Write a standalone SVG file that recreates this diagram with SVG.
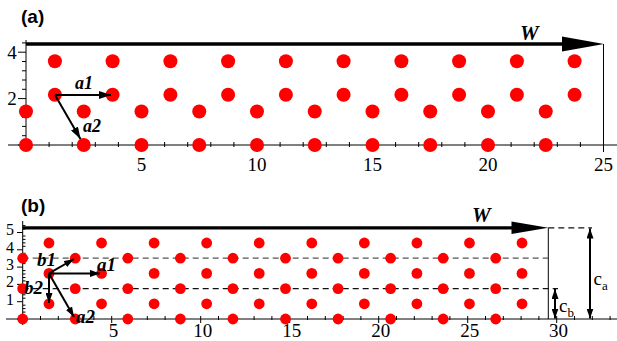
<svg xmlns="http://www.w3.org/2000/svg" width="617" height="341" viewBox="0 0 617 341">
<style>
.dotA{fill:#ff0000}
.ax{stroke:#000;stroke-width:1;fill:none}
.tk{stroke:#000;stroke-width:1}
.num{font-family:"Liberation Serif",serif;fill:#000}
.vl{font-family:"Liberation Serif",serif;font-style:italic;font-weight:bold;fill:#000}
.pl{font-family:"Liberation Sans",Arial,sans-serif;font-weight:bold;font-size:19px;fill:#000}
.vec{stroke:#000;stroke-width:2;fill:none}
.dash1{stroke:#555;stroke-width:1.2;stroke-dasharray:6 4;fill:none}
.dash2{stroke:#111;stroke-width:1.2;stroke-dasharray:6 4;fill:none}
</style>
<defs>
<marker id="ah" markerUnits="userSpaceOnUse" markerWidth="13" markerHeight="8" refX="12" refY="4" orient="auto"><path d="M0,0 L12,4 L0,8 z" fill="#000"/></marker>
<marker id="ahs" markerUnits="userSpaceOnUse" markerWidth="11" markerHeight="7" refX="10" refY="3.5" orient="auto"><path d="M0,0 L10,3.5 L0,7 z" fill="#000"/></marker>
<marker id="ahd" markerUnits="userSpaceOnUse" markerWidth="11" markerHeight="7" refX="10" refY="3.5" orient="auto-start-reverse"><path d="M0,0 L10,3.5 L0,7 z" fill="#000"/></marker>
</defs>

<!-- ============ PANEL A ============ -->
<g id="panelA-axes">
<text class="pl" x="21" y="23">(a)</text>
<line class="ax" x1="26" y1="40" x2="26" y2="151"/>
<line class="ax" x1="8" y1="145" x2="617" y2="145"/>
<line class="ax" x1="603.5" y1="44" x2="603.5" y2="145"/>
<g class="tk">
<line x1="18" y1="145" x2="26" y2="145"/><line x1="18" y1="98.6" x2="26" y2="98.6"/><line x1="18" y1="52.2" x2="26" y2="52.2"/>
<line x1="22" y1="135.7" x2="26" y2="135.7"/><line x1="22" y1="126.4" x2="26" y2="126.4"/><line x1="22" y1="117.2" x2="26" y2="117.2"/><line x1="22" y1="107.9" x2="26" y2="107.9"/>
<line x1="22" y1="89.3" x2="26" y2="89.3"/><line x1="22" y1="80" x2="26" y2="80"/><line x1="22" y1="70.8" x2="26" y2="70.8"/><line x1="22" y1="61.5" x2="26" y2="61.5"/>
<line x1="22" y1="42.9" x2="26" y2="42.9"/>
</g>
<g class="tk">
<line x1="141.5" y1="143" x2="141.5" y2="152"/><line x1="257" y1="143" x2="257" y2="152"/><line x1="372.5" y1="143" x2="372.5" y2="152"/><line x1="488" y1="143" x2="488" y2="152"/><line x1="603.5" y1="143" x2="603.5" y2="152"/>
<line x1="49.1" y1="142" x2="49.1" y2="147"/><line x1="72.2" y1="142" x2="72.2" y2="147"/><line x1="95.3" y1="142" x2="95.3" y2="147"/><line x1="118.4" y1="142" x2="118.4" y2="147"/>
<line x1="164.6" y1="142" x2="164.6" y2="147"/><line x1="187.7" y1="142" x2="187.7" y2="147"/><line x1="210.8" y1="142" x2="210.8" y2="147"/><line x1="233.9" y1="142" x2="233.9" y2="147"/>
<line x1="280.1" y1="142" x2="280.1" y2="147"/><line x1="303.2" y1="142" x2="303.2" y2="147"/><line x1="326.3" y1="142" x2="326.3" y2="147"/><line x1="349.4" y1="142" x2="349.4" y2="147"/>
<line x1="395.6" y1="142" x2="395.6" y2="147"/><line x1="418.7" y1="142" x2="418.7" y2="147"/><line x1="441.8" y1="142" x2="441.8" y2="147"/><line x1="464.9" y1="142" x2="464.9" y2="147"/>
<line x1="511.1" y1="142" x2="511.1" y2="147"/><line x1="534.2" y1="142" x2="534.2" y2="147"/><line x1="557.3" y1="142" x2="557.3" y2="147"/><line x1="580.4" y1="142" x2="580.4" y2="147"/>
</g>
<g class="num" font-size="19" text-anchor="middle">
<text x="12" y="58.5">4</text><text x="12" y="105">2</text>
<text x="141.5" y="171">5</text><text x="257" y="171">10</text><text x="372.5" y="171">15</text><text x="488" y="171">20</text><text x="603.5" y="171">25</text>
</g>
</g>

<g id="panelA-W">
<line x1="26" y1="44" x2="566" y2="44" stroke="#000" stroke-width="3.5"/>
<polygon points="562,36.5 604,44 562,51.5" fill="#000"/>
<text class="vl" font-size="21" x="520" y="40">W</text>
</g>

<g id="panelA-atoms" class="dotA">
<circle cx="26" cy="145" r="7"/><circle cx="83.75" cy="145" r="7"/><circle cx="141.5" cy="145" r="7"/><circle cx="199.25" cy="145" r="7"/><circle cx="257" cy="145" r="7"/><circle cx="314.75" cy="145" r="7"/><circle cx="372.5" cy="145" r="7"/><circle cx="430.25" cy="145" r="7"/><circle cx="488" cy="145" r="7"/><circle cx="545.75" cy="145" r="7"/>
<circle cx="26" cy="111.5" r="7"/><circle cx="83.75" cy="111.5" r="7"/><circle cx="141.5" cy="111.5" r="7"/><circle cx="199.25" cy="111.5" r="7"/><circle cx="257" cy="111.5" r="7"/><circle cx="314.75" cy="111.5" r="7"/><circle cx="372.5" cy="111.5" r="7"/><circle cx="430.25" cy="111.5" r="7"/><circle cx="488" cy="111.5" r="7"/><circle cx="545.75" cy="111.5" r="7"/>
<circle cx="54.9" cy="94.8" r="7"/><circle cx="112.6" cy="94.8" r="7"/><circle cx="170.4" cy="94.8" r="7"/><circle cx="228.1" cy="94.8" r="7"/><circle cx="285.9" cy="94.8" r="7"/><circle cx="343.6" cy="94.8" r="7"/><circle cx="401.4" cy="94.8" r="7"/><circle cx="459.1" cy="94.8" r="7"/><circle cx="516.9" cy="94.8" r="7"/><circle cx="574.6" cy="94.8" r="7"/>
<circle cx="54.9" cy="61.3" r="7"/><circle cx="112.6" cy="61.3" r="7"/><circle cx="170.4" cy="61.3" r="7"/><circle cx="228.1" cy="61.3" r="7"/><circle cx="285.9" cy="61.3" r="7"/><circle cx="343.6" cy="61.3" r="7"/><circle cx="401.4" cy="61.3" r="7"/><circle cx="459.1" cy="61.3" r="7"/><circle cx="516.9" cy="61.3" r="7"/><circle cx="574.6" cy="61.3" r="7"/>
</g>

<g id="panelA-vectors">
<line class="vec" x1="55" y1="95" x2="111" y2="95" marker-end="url(#ah)"/>
<line class="vec" x1="55" y1="95" x2="80.5" y2="139" marker-end="url(#ah)"/>
<text class="vl" font-size="18" x="75" y="89">a1</text>
<text class="vl" font-size="18" x="83" y="131.5">a2</text>
</g>

<!-- ============ PANEL B ============ -->
<g id="panelB-axes">
<text class="pl" x="21" y="212">(b)</text>
<line class="ax" x1="22.7" y1="221" x2="22.7" y2="325"/>
<line class="ax" x1="6" y1="319" x2="617" y2="319"/>
<line class="ax" x1="548.3" y1="227.8" x2="548.3" y2="319"/>
<g class="tk">
<line x1="17" y1="319" x2="22.7" y2="319"/><line x1="17" y1="301.7" x2="22.7" y2="301.7"/><line x1="17" y1="284.4" x2="22.7" y2="284.4"/><line x1="17" y1="267.1" x2="22.7" y2="267.1"/><line x1="17" y1="249.8" x2="22.7" y2="249.8"/><line x1="17" y1="232.5" x2="22.7" y2="232.5"/>
</g>
<path class="tk" d="M22.7,315.5h2.8M22.7,312.1h2.8M22.7,308.6h2.8M22.7,305.2h2.8M22.7,298.2h2.8M22.7,294.8h2.8M22.7,291.3h2.8M22.7,287.9h2.8M22.7,280.9h2.8M22.7,277.5h2.8M22.7,274h2.8M22.7,270.6h2.8M22.7,263.6h2.8M22.7,260.2h2.8M22.7,256.7h2.8M22.7,253.3h2.8M22.7,246.3h2.8M22.7,242.9h2.8M22.7,239.4h2.8M22.7,236h2.8M22.7,229h2.8M22.7,225.6h2.8"/>
<path class="tk" d="M111.7,316v7M200.7,316v7M289.7,316v7M378.7,316v7M467.7,316v7M556.7,316v7
M40.5,316v4M58.3,316v4M76.1,316v4M93.9,316v4M129.5,316v4M147.3,316v4M165.1,316v4M182.9,316v4M218.5,316v4M236.3,316v4M254.1,316v4M271.9,316v4M307.5,316v4M325.3,316v4M343.1,316v4M360.9,316v4M396.5,316v4M414.3,316v4M432.1,316v4M449.9,316v4M485.5,316v4M503.3,316v4M521.1,316v4M538.9,316v4M574.5,316v4M592.3,316v4M610.1,316v4"/>
<g class="num" font-size="16" text-anchor="middle">
<text x="10" y="304.5">1</text><text x="10" y="287.2">2</text><text x="10" y="269.9">3</text><text x="10" y="252.6">4</text><text x="10" y="235.3">5</text>
</g>
<g class="num" font-size="19" text-anchor="middle">
<text x="113.5" y="337">5</text><text x="202.7" y="337">10</text><text x="291.7" y="337">15</text><text x="380.7" y="337">20</text><text x="469.7" y="337">25</text><text x="558.5" y="337">30</text>
</g>
</g>

<g id="panelB-guides">
<line class="dash1" x1="22.7" y1="258.2" x2="548.3" y2="258.2"/>
<line class="dash2" x1="22.7" y1="288.6" x2="558" y2="288.6"/>
<line class="dash2" x1="548.3" y1="227.8" x2="592" y2="227.8"/>
</g>

<g id="panelB-W">
<line x1="22.7" y1="227.8" x2="515" y2="227.8" stroke="#000" stroke-width="3.2"/>
<polygon points="511.5,221.5 548.3,227.8 511.5,234" fill="#000"/>
<text class="vl" font-size="21" x="472" y="222">W</text>
</g>

<g id="panelB-atoms" class="dotA">
<circle cx="22.7" cy="319" r="5.4"/><circle cx="75.26" cy="319" r="5.4"/><circle cx="127.82" cy="319" r="5.4"/><circle cx="180.38" cy="319" r="5.4"/><circle cx="232.94" cy="319" r="5.4"/><circle cx="285.5" cy="319" r="5.4"/><circle cx="338.06" cy="319" r="5.4"/><circle cx="390.62" cy="319" r="5.4"/><circle cx="443.18" cy="319" r="5.4"/><circle cx="495.74" cy="319" r="5.4"/>
<circle cx="48.98" cy="303.8" r="5.4"/><circle cx="101.54" cy="303.8" r="5.4"/><circle cx="154.1" cy="303.8" r="5.4"/><circle cx="206.66" cy="303.8" r="5.4"/><circle cx="259.22" cy="303.8" r="5.4"/><circle cx="311.78" cy="303.8" r="5.4"/><circle cx="364.34" cy="303.8" r="5.4"/><circle cx="416.9" cy="303.8" r="5.4"/><circle cx="469.46" cy="303.8" r="5.4"/><circle cx="522.02" cy="303.8" r="5.4"/>
<circle cx="22.7" cy="288.6" r="5.4"/><circle cx="75.26" cy="288.6" r="5.4"/><circle cx="127.82" cy="288.6" r="5.4"/><circle cx="180.38" cy="288.6" r="5.4"/><circle cx="232.94" cy="288.6" r="5.4"/><circle cx="285.5" cy="288.6" r="5.4"/><circle cx="338.06" cy="288.6" r="5.4"/><circle cx="390.62" cy="288.6" r="5.4"/><circle cx="443.18" cy="288.6" r="5.4"/><circle cx="495.74" cy="288.6" r="5.4"/>
<circle cx="48.98" cy="273.4" r="5.4"/><circle cx="101.54" cy="273.4" r="5.4"/><circle cx="154.1" cy="273.4" r="5.4"/><circle cx="206.66" cy="273.4" r="5.4"/><circle cx="259.22" cy="273.4" r="5.4"/><circle cx="311.78" cy="273.4" r="5.4"/><circle cx="364.34" cy="273.4" r="5.4"/><circle cx="416.9" cy="273.4" r="5.4"/><circle cx="469.46" cy="273.4" r="5.4"/><circle cx="522.02" cy="273.4" r="5.4"/>
<circle cx="22.7" cy="258.2" r="5.4"/><circle cx="75.26" cy="258.2" r="5.4"/><circle cx="127.82" cy="258.2" r="5.4"/><circle cx="180.38" cy="258.2" r="5.4"/><circle cx="232.94" cy="258.2" r="5.4"/><circle cx="285.5" cy="258.2" r="5.4"/><circle cx="338.06" cy="258.2" r="5.4"/><circle cx="390.62" cy="258.2" r="5.4"/><circle cx="443.18" cy="258.2" r="5.4"/><circle cx="495.74" cy="258.2" r="5.4"/>
<circle cx="48.98" cy="243" r="5.4"/><circle cx="101.54" cy="243" r="5.4"/><circle cx="154.1" cy="243" r="5.4"/><circle cx="206.66" cy="243" r="5.4"/><circle cx="259.22" cy="243" r="5.4"/><circle cx="311.78" cy="243" r="5.4"/><circle cx="364.34" cy="243" r="5.4"/><circle cx="416.9" cy="243" r="5.4"/><circle cx="469.46" cy="243" r="5.4"/><circle cx="522.02" cy="243" r="5.4"/>
</g>

<g id="panelB-vectors">
<line class="vec" x1="49" y1="273.4" x2="100" y2="273.4" marker-end="url(#ahs)"/>
<line class="vec" x1="49" y1="273.4" x2="74" y2="317" marker-end="url(#ahs)"/>
<line class="vec" x1="49" y1="273.4" x2="74" y2="259" marker-end="url(#ahs)"/>
<line class="vec" x1="49" y1="273.4" x2="49" y2="303" marker-end="url(#ahs)"/>
<text class="vl" font-size="19" x="37" y="266">b1</text>
<text class="vl" font-size="19" x="97" y="271">a1</text>
<text class="vl" font-size="19" x="24" y="294">b2</text>
<text class="vl" font-size="19" x="76" y="323">a2</text>
</g>

<g id="panelB-dimensions">
<line class="vec" x1="555" y1="289" x2="555" y2="318.5" marker-start="url(#ahd)" marker-end="url(#ahd)"/>
<line class="vec" x1="590" y1="228.5" x2="590" y2="318.5" marker-start="url(#ahd)" marker-end="url(#ahd)"/>
<text class="num" font-size="19" x="559" y="312">c<tspan font-size="13" dy="4.5">b</tspan></text>
<text class="num" font-size="19" x="593.5" y="285">c<tspan font-size="13" dy="4.5">a</tspan></text>
</g>
</svg>
